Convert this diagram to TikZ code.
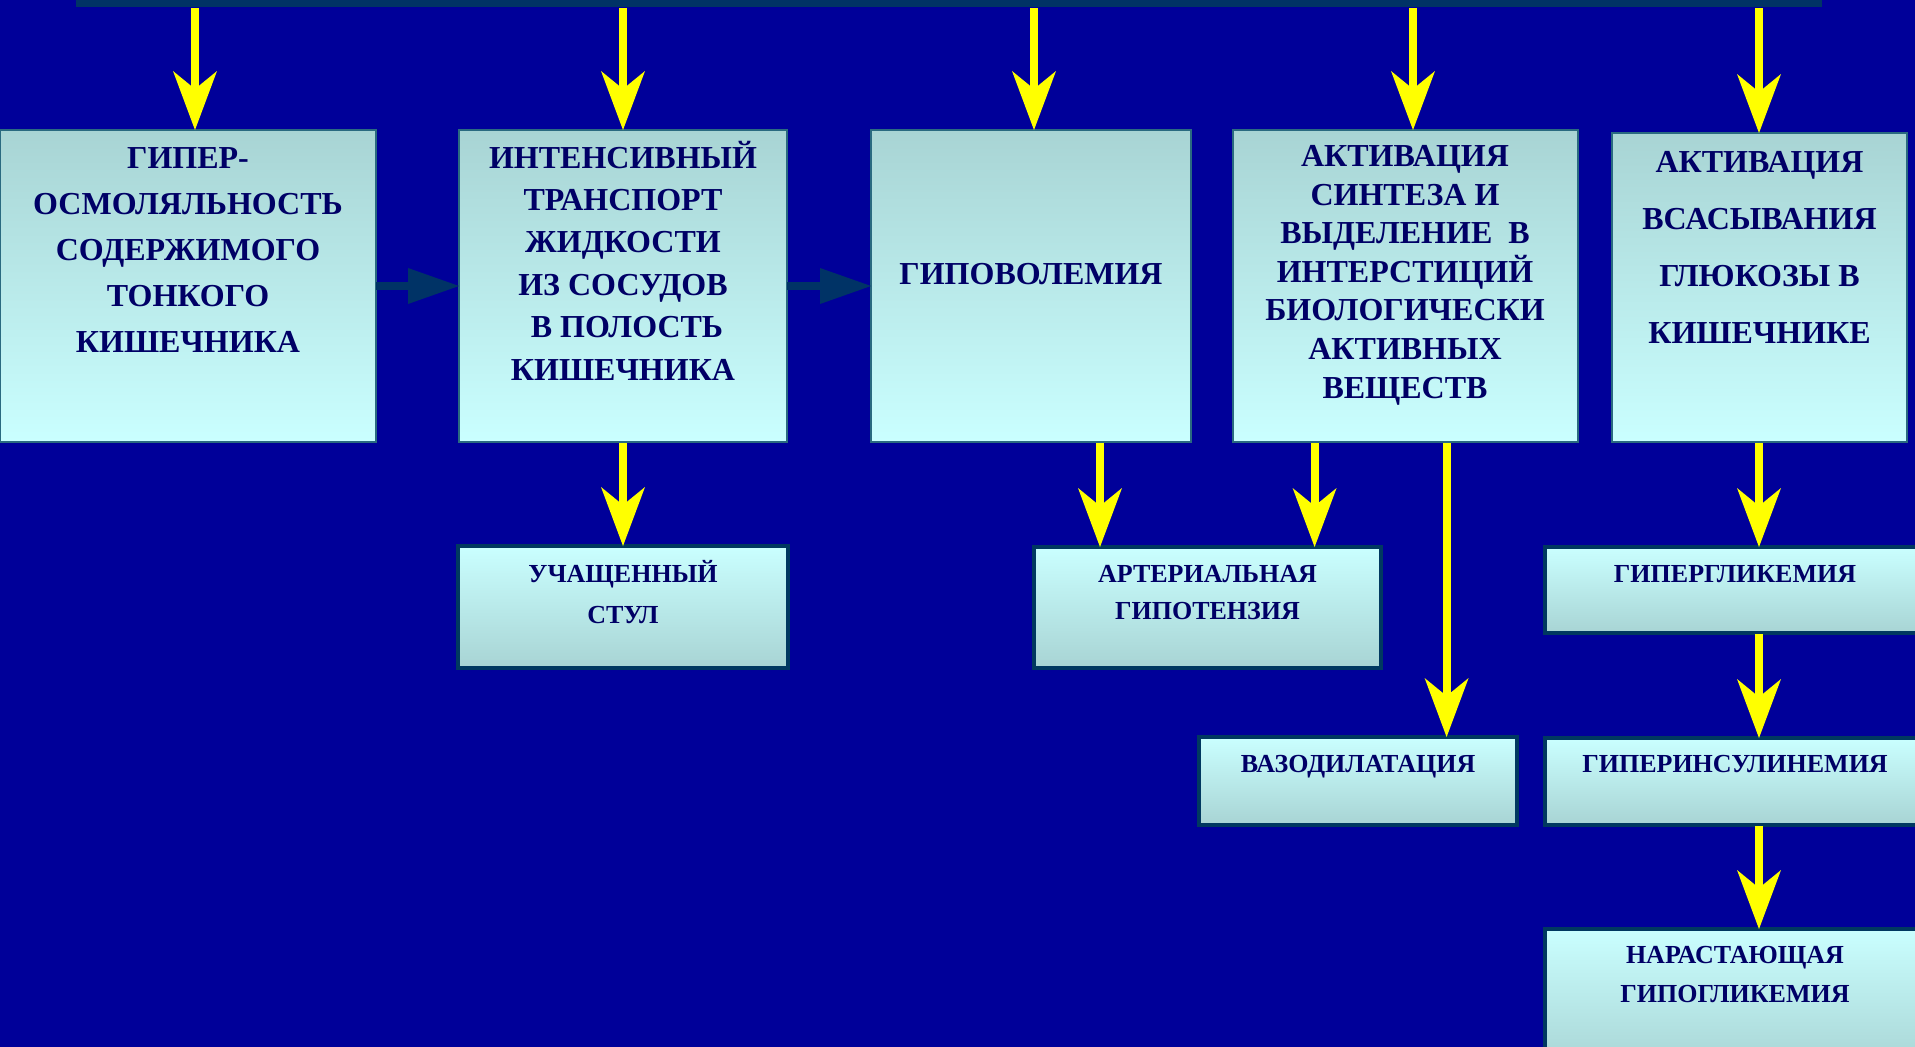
\documentclass[tikz,border=0pt]{standalone}
\usepackage{fontspec}
\setmainfont{Liberation Serif}
\usetikzlibrary{arrows.meta}

\definecolor{bgblue}{HTML}{000099}
\definecolor{bardark}{HTML}{003366}
\definecolor{inktext}{HTML}{000066}
\definecolor{edgeA}{HTML}{2A6A80}
\definecolor{edgeB}{HTML}{003860}
\definecolor{cyanlite}{HTML}{CAFFFF}
\definecolor{cyandark}{HTML}{A8D4D4}
\definecolor{yel}{HTML}{FFFF00}

% centred stack of lines whose baseline is the first line
\newcommand{\stack}[1]{\vtop{\halign{\hfil##\hfil\cr#1\crcr}}}

\begin{document}
\begin{tikzpicture}[x=1pt,y=-1pt,
  causebox/.style={draw=edgeA, line width=2.5pt, top color=cyandark, bottom color=cyanlite,
    anchor=north west, inner sep=0pt, outer sep=0pt},
  effectbox/.style={draw=edgeB, line width=4pt, top color=cyanlite, bottom color=cyandark,
    anchor=north west, inner sep=0pt, outer sep=0pt},
  bigtxt/.style={text=inktext, anchor=base, inner sep=0pt},
  yarrow/.style={draw=yel, line width=8pt,
    -{Stealth[length=59pt,width=44pt,inset=18pt,line width=0pt]}},
  darrow/.style={draw=bardark, line width=8pt,
    -{Triangle[length=51pt,width=36pt,line width=0pt]}},
]
\useasboundingbox (0,0) rectangle (1915,1047);
\fill[bgblue] (0,0) rectangle (1915,1047);

% top bar
\node[fill=bardark, minimum width=1746pt, minimum height=16pt, inner sep=0pt, outer sep=0pt,
  anchor=south west] (bar) at (76,6.5) {};

% first row
\node[causebox, minimum width=376pt, minimum height=312pt] (A) at (0,130) {};
\node[causebox, minimum width=328pt, minimum height=312pt] (B) at (459,130) {};
\node[causebox, minimum width=320pt, minimum height=312pt] (C) at (871,130) {};
\node[causebox, minimum width=345pt, minimum height=312pt] (D) at (1233,130) {};
\node[causebox, minimum width=295pt, minimum height=309pt] (E) at (1612,133) {};

\node[bigtxt, font=\fontsize{32}{46}\selectfont\bfseries] (tA) at (188,168)
  {\stack{ГИПЕР-\cr ОСМОЛЯЛЬНОСТЬ\cr СОДЕРЖИМОГО\cr ТОНКОГО\cr КИШЕЧНИКА}};
\node[bigtxt, font=\fontsize{32}{42.4}\selectfont\bfseries] (tB) at (623,168)
  {\stack{ИНТЕНСИВНЫЙ\cr ТРАНСПОРТ\cr ЖИДКОСТИ\cr ИЗ СОСУДОВ\cr \ В ПОЛОСТЬ\cr КИШЕЧНИКА}};
\node[bigtxt, font=\fontsize{32}{38}\selectfont\bfseries] (tC) at (1031,284.5) {ГИПОВОЛЕМИЯ};
\node[bigtxt, font=\fontsize{32}{38.6}\selectfont\bfseries] (tD) at (1405,166.5)
  {\stack{АКТИВАЦИЯ\cr СИНТЕЗА И\cr ВЫДЕЛЕНИЕ\ \ В\cr ИНТЕРСТИЦИЙ\cr БИОЛОГИЧЕСКИ\cr АКТИВНЫХ\cr ВЕЩЕСТВ}};
\node[bigtxt, font=\fontsize{32}{57}\selectfont\bfseries] (tE) at (1759.5,172)
  {\stack{АКТИВАЦИЯ\cr ВСАСЫВАНИЯ\cr ГЛЮКОЗЫ В\cr КИШЕЧНИКЕ}};

% second and later rows
\node[effectbox, minimum width=330pt, minimum height=122pt] (U) at (458,546) {};
\node[effectbox, minimum width=347pt, minimum height=121pt] (Art) at (1034,547) {};
\node[effectbox, minimum width=318pt, minimum height=88pt] (Vaso) at (1199,737) {};
\node[effectbox, minimum width=380pt, minimum height=86pt] (Hg) at (1545,547) {};
\node[effectbox, minimum width=380pt, minimum height=87pt] (Hi) at (1545,738) {};
\node[effectbox, minimum width=380pt, minimum height=140pt] (Nh) at (1545,929) {};

\node[bigtxt, font=\fontsize{26}{41}\selectfont\bfseries] (tU) at (623,582)
  {\stack{УЧАЩЕННЫЙ\cr СТУЛ}};
\node[bigtxt, font=\fontsize{26}{37}\selectfont\bfseries] (tArt) at (1207.5,582)
  {\stack{АРТЕРИАЛЬНАЯ\cr ГИПОТЕНЗИЯ}};
\node[bigtxt, font=\fontsize{26}{37}\selectfont\bfseries] (tVaso) at (1358,772) {ВАЗОДИЛАТАЦИЯ};
\node[bigtxt, font=\fontsize{26}{37}\selectfont\bfseries] (tHg) at (1735,582) {ГИПЕРГЛИКЕМИЯ};
\node[bigtxt, font=\fontsize{26}{37}\selectfont\bfseries] (tHi) at (1735,772) {ГИПЕРИНСУЛИНЕМИЯ};
\node[bigtxt, font=\fontsize{26}{39}\selectfont\bfseries] (tNh) at (1735,963)
  {\stack{НАРАСТАЮЩАЯ\cr ГИПОГЛИКЕМИЯ}};

% arrow columns
\coordinate (c1) at (195,0);
\coordinate (c2) at (623,0);
\coordinate (c3) at (1034,0);
\coordinate (c4) at (1413,0);
\coordinate (c5) at (1759,0);
\coordinate (c6) at (1100,0);
\coordinate (c7) at (1314.6,0);
\coordinate (c8) at (1446.6,0);

% from the top bar
\draw[yarrow, shorten <=1.5pt] (c1 |- bar.south) -- (c1 |- A.north);
\draw[yarrow, shorten <=1.5pt] (c2 |- bar.south) -- (c2 |- B.north);
\draw[yarrow, shorten <=1.5pt] (c3 |- bar.south) -- (c3 |- C.north);
\draw[yarrow, shorten <=1.5pt] (c4 |- bar.south) -- (c4 |- D.north);
\draw[yarrow, shorten <=1.5pt] (c5 |- bar.south) -- (c5 |- E.north);

% chain of the first row
\draw[darrow] (A.east) -- (B.west);
\draw[darrow] (B.east) -- (C.west);

% consequences
\draw[yarrow, shorten <=1pt] (c2 |- B.south) -- (c2 |- U.north);
\draw[yarrow, shorten <=1pt] (c6 |- C.south) -- (c6 |- Art.north);
\draw[yarrow, shorten <=1pt] (c7 |- D.south) -- (c7 |- Art.north);
\draw[yarrow, shorten <=1pt] (c8 |- D.south) -- (c8 |- Vaso.north);
\draw[yarrow, shorten <=1pt] (c5 |- E.south) -- (c5 |- Hg.north);
\draw[yarrow, shorten <=1pt] (c5 |- Hg.south) -- (c5 |- Hi.north);
\draw[yarrow, shorten <=1pt] (c5 |- Hi.south) -- (c5 |- Nh.north);
\end{tikzpicture}
\end{document}
